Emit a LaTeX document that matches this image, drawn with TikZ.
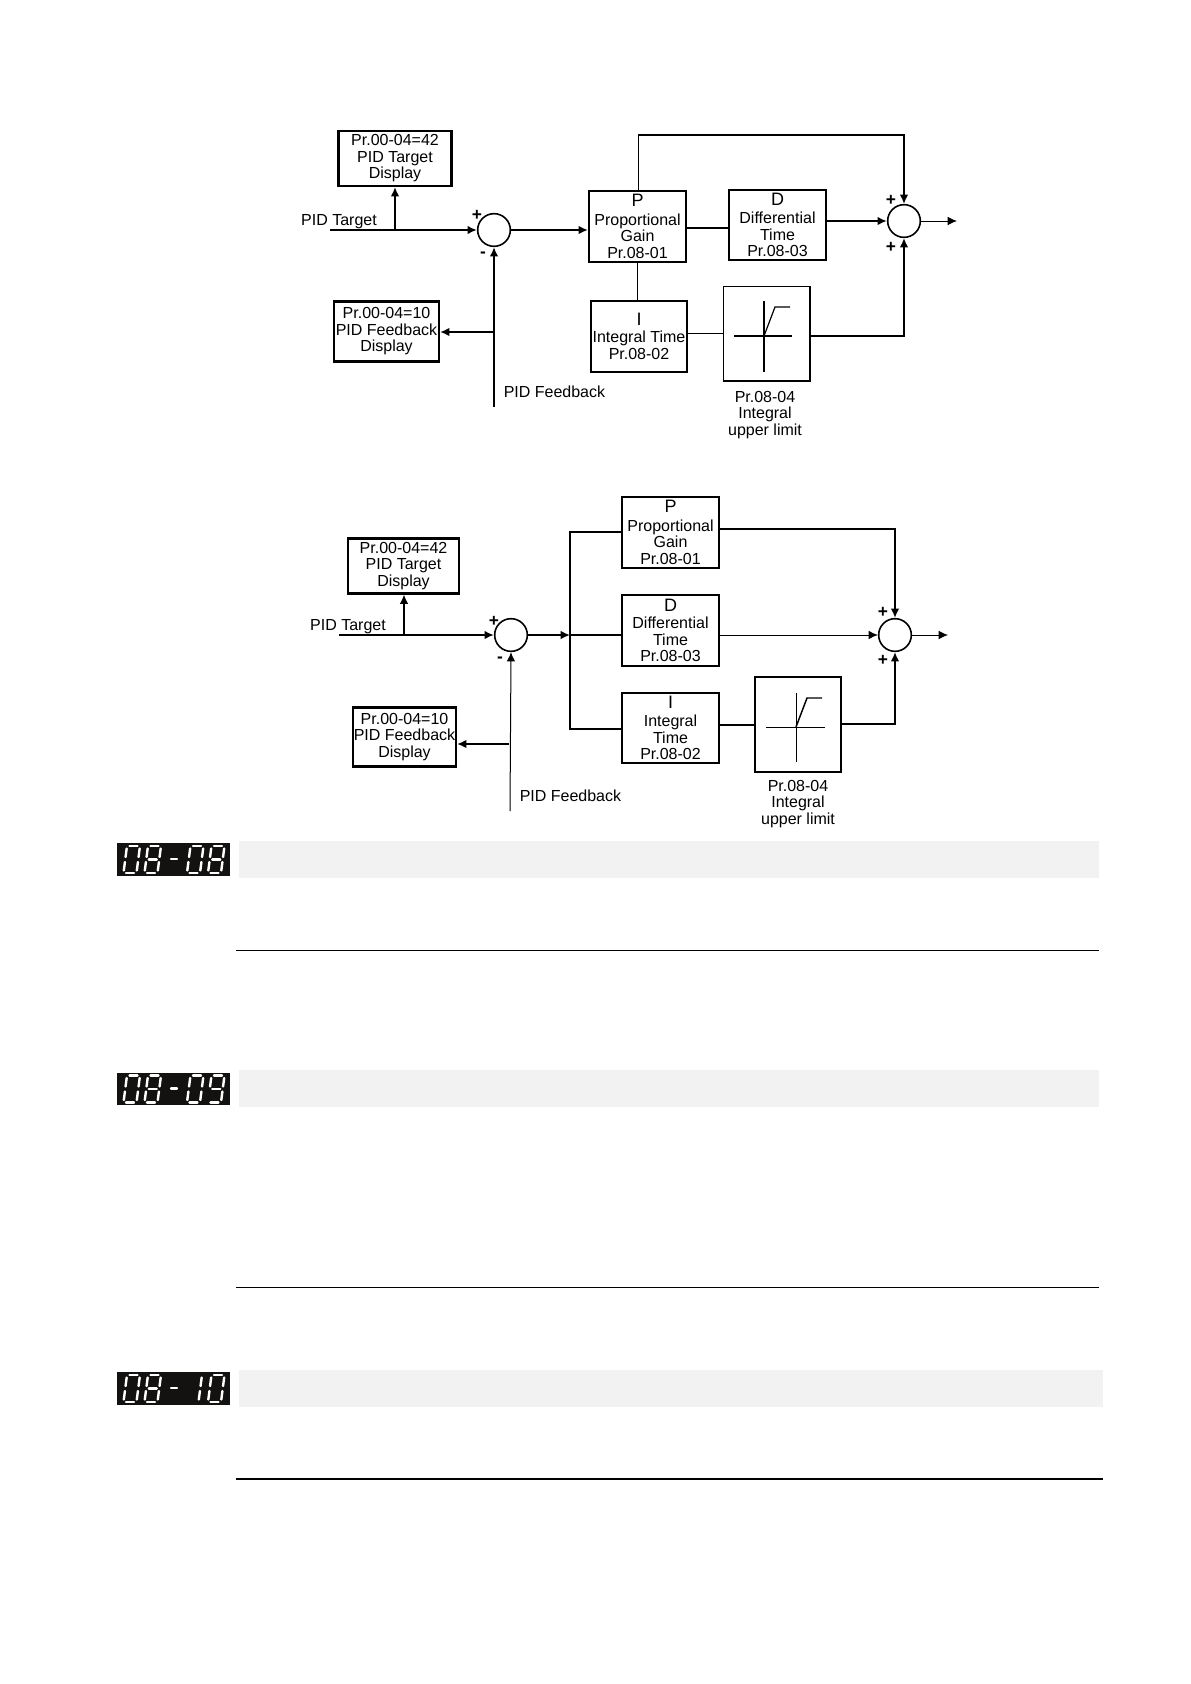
\documentclass[tikz,border=0pt]{standalone}
\usepackage{fontspec}
\setmainfont{Liberation Sans}
\usetikzlibrary{arrows.meta}
\definecolor{barcol}{HTML}{F2F2F2}
\definecolor{badgecol}{HTML}{141210}
\tikzset{
  lab/.style={inner sep=0pt,align=center,font=\fontsize{12}{12.4}\selectfont},
  boxlab/.style={lab,execute at begin node={\rule{0pt}{13pt}}},
  blockbox/.style={boxlab,draw=black,line width=1.3pt,minimum width=#1},
  dispbox/.style={boxlab,draw=black,line width=1.8pt,minimum width=#1},
  sumcirc/.style={circle,draw=black,line width=1.2pt,minimum size=24.5pt,inner sep=0pt},
  sign/.style={inner sep=0pt,xshift=0.75pt,yshift=-0.75pt,font=\fontsize{13}{13}\selectfont\bfseries},
  thinw/.style={draw=black,line width=0.75pt},
  medw/.style={draw=black,line width=1.2pt},
  thickw/.style={draw=black,line width=1.6pt},
  tip/.style={-{Latex[length=7pt,width=6.5pt]}},
  graybar/.style={fill=barcol,draw=none},
  rulew/.style={draw=black,line width=0.6pt},
  led/.style={draw=white,line width=1.8pt,line cap=round},
  ledbadge/.style={fill=badgecol,draw=none}
}
\newcommand{\bigletter}[1]{{\fontsize{13.5}{12.4}\selectfont #1}}
% seven-segment digit: #1 x, #2 y (top-left), #3 list of segments
\newcommand{\ledsegs}[3]{%
  \begin{scope}[shift={(#1,#2)},xslant=0.13]
    \foreach \s in {#3}{%
      \ifnum\s=1 \draw[led] (2.5,0) -- (10.5,0); \fi
      \ifnum\s=2 \draw[led] (13,2.5) -- (13,11); \fi
      \ifnum\s=3 \draw[led] (13,16) -- (13,24.5); \fi
      \ifnum\s=4 \draw[led] (2.5,27) -- (10.5,27); \fi
      \ifnum\s=5 \draw[led] (0,16) -- (0,24.5); \fi
      \ifnum\s=6 \draw[led] (0,2.5) -- (0,11); \fi
      \ifnum\s=7 \draw[led] (2.5,13.5) -- (10.5,13.5); \fi
    }
  \end{scope}}
\newcommand{\zerod}[2]{\ledsegs{#1}{#2}{1,2,3,4,5,6}}
\newcommand{\eightd}[2]{\ledsegs{#1}{#2}{1,2,3,4,5,6,7}}
\newcommand{\oned}[2]{\ledsegs{#1}{#2}{2,3}}
\newcommand{\ninedd}[2]{\ledsegs{#1}{#2}{1,2,3,4,6,7}}
\begin{document}
\begin{tikzpicture}[x=0.75pt,y=-0.75pt]
\useasboundingbox (0,0) rectangle (1190,1684);
\fill[white] (0,0) rectangle (1190,1684);

% ---------- first diagram ----------
\node[dispbox=85pt,minimum height=41pt] (tgtA) at (395,158.5) {Pr.00-04=42\\PID Target\\Display};
\node[dispbox=78.5pt,minimum height=45pt] (fbA) at (386.5,331.5) {Pr.00-04=10\\PID Feedback\\Display};
\node[sumcirc] (sA) at (494,230) {};
\node[sumcirc] (tA) at (904,221) {};
\node[blockbox=73pt,minimum height=53pt] (pA) at (637.5,226.5) {\bigletter{P}\\[1.5pt]Proportional\\Gain\\Pr.08-01};
\node[blockbox=73pt,minimum height=52.5pt] (dA) at (777.5,225) {\bigletter{D}\\[1.5pt]Differential\\Time\\Pr.08-03};
\node[blockbox=72pt,minimum height=53pt] (iA) at (639,336.5) {\bigletter{I}\\[0.5pt]Integral Time\\Pr.08-02};
\node[draw=black,line width=1pt,minimum width=65pt,minimum height=71pt,inner sep=0pt] (limA) at (766.5,333.5) {};
\node[lab,anchor=center] (ttA) at (339,222) {PID Target};
\node[lab,anchor=west] (ftA) at (503.5,392) {PID Feedback};
\node[lab] (ulA) at (765,415) {Pr.08-04\\Integral\\upper limit};
\node[sign] (p1A) at (476,214) {+};
\node[sign] (m1A) at (482,254) {-};
\node[sign] (p2A) at (890,199) {+};
\node[sign] (p3A) at (890,246) {+};
\coordinate (inA) at (330,230);
\coordinate (brA) at (395,230);
\coordinate (fsA) at (494,407);
\coordinate (fjA) at (494,332);
\coordinate (topA) at (904,135);
\coordinate (outA) at (957,221);
\draw[thickw,tip] (inA) -- (sA.west);
\draw[thickw,tip] (brA) -- (tgtA.south -| brA);
\draw[thickw,tip] (fsA) -- (sA.south);
\draw[thickw,tip] (fjA) -- (fjA -| fbA.east);
\draw[thickw,tip] (sA.east) -- (sA.east -| pA.west);
\draw[medw,tip] ([xshift=0.75pt]pA.north) -- ([xshift=0.75pt]pA.north |- topA) -- (topA) -- (tA.north);
\draw[thickw] (pA.east |- 0,228) -- (dA.west |- 0,228);
\draw[thickw,tip] (dA.east |- tA) -- (tA.west);
\draw[thinw] (pA.south) -- (iA.north -| pA.south);
\draw[thinw] (iA.east |- limA) -- (limA.west);
\draw[medw,tip] (limA.east |- 0,336) -- (tA.south |- 0,336) -- (tA.south);
\draw[thinw,tip] (tA.east) -- (outA);
% limiter graph
\draw[line width=1.1pt] (764,301) -- (764,372);
\draw[line width=1.1pt] (734,336) -- (792,336);
\draw[line width=0.9pt] (764,336) -- (775,307) -- (790,307);

% ---------- second diagram ----------
\node[dispbox=83pt,minimum height=41pt] (tgtB) at (403.5,566) {Pr.00-04=42\\PID Target\\Display};
\node[dispbox=77pt,minimum height=44pt] (fbB) at (404.5,737) {Pr.00-04=10\\PID Feedback\\Display};
\node[sumcirc] (sB) at (511,635) {};
\node[sumcirc] (tB) at (895,635) {};
\node[blockbox=72.5pt,minimum height=53pt] (pB) at (670.5,532.5) {\bigletter{P}\\[1.5pt]Proportional\\Gain\\Pr.08-01};
\node[blockbox=72.5pt,minimum height=53pt] (dB) at (670.5,630.5) {\bigletter{D}\\[0.5pt]Differential\\Time\\Pr.08-03};
\node[blockbox=72.5pt,minimum height=53pt] (iB) at (670.5,728) {\bigletter{I}\\[1.5pt]Integral\\Time\\Pr.08-02};
\node[draw=black,line width=1.1pt,minimum width=64.5pt,minimum height=71pt,inner sep=0pt] (limB) at (798,724.5) {};
\node[lab] (ttB) at (348,627) {PID Target};
\node[lab,anchor=west] (ftB) at (519.5,796) {PID Feedback};
\node[lab] (ulB) at (798,804) {Pr.08-04\\Integral\\upper limit};
\node[sign] (p1B) at (493,620) {+};
\node[sign] (m1B) at (499,659) {-};
\node[sign] (p2B) at (882,611) {+};
\node[sign] (p3B) at (882,659) {+};
\coordinate (inB) at (339,635);
\coordinate (brB) at (404,635);
\coordinate (fsB) at (510,811);
\coordinate (fjB) at (509,744);
\coordinate (busB) at (570,635);
\coordinate (busT) at (570,532);
\coordinate (busL) at (570,729);
\coordinate (outB) at (948,635);
\draw[thickw,tip] (inB) -- (sB.west);
\draw[medw,tip] (brB) -- (tgtB.south -| brB);
\draw[thinw,tip] (fsB) -- (sB.south);
\draw[thickw,tip] (fjB) -- (fjB -| fbB.east);
\draw[thickw,tip] (sB.east) -- (busB);
\draw[thickw] (busB) -- (dB.west |- busB);
\draw[thickw] (pB.west |- busT) -- (busT) -- (busL) -- (iB.west |- busL);
\draw[medw,tip] (pB.east |- 0,529) -- (tB.north |- 0,529) -- (tB.north);
\draw[thinw,tip] (dB.east |- tB) -- (tB.west);
\draw[thickw] (iB.east |- 0,725) -- (limB.west |- 0,725);
\draw[medw,tip] (limB.east |- 0,724) -- (tB.south |- 0,724) -- (tB.south);
\draw[thinw,tip] (tB.east) -- (outB);
% limiter graph
\draw[line width=0.7pt] (796,693) -- (796,762);
\draw[line width=0.6pt] (766,727) -- (825,727);
\draw[line width=1.1pt] (796,727) -- (807,698) -- (822,698);

% ---------- parameter bars ----------
\fill[graybar] (239,841) rectangle (1099,878);
\fill[graybar] (239,1070) rectangle (1099,1107);
\fill[graybar] (239,1370) rectangle (1103,1407);
\draw[rulew] (236,950.5) -- (1099,950.5);
\draw[rulew] (236,1287) -- (1099,1287);
\draw[line width=0.9pt] (236,1479) -- (1103,1479);

% ---------- LED badges ----------
\fill[ledbadge] (117,843) rectangle (230,876);
\zerod{127}{846}\eightd{148}{846}\zerod{190.5}{846}\eightd{211.5}{846}
\draw[led] (171,859) -- (177,859);
\fill[ledbadge] (117,1073) rectangle (230,1105);
\zerod{127}{1075.5}\eightd{148}{1075.5}\zerod{190.5}{1075.5}\ninedd{211.5}{1075.5}
\draw[led] (171,1088.5) -- (177,1088.5);
\fill[ledbadge] (117,1372) rectangle (230,1405);
\zerod{127}{1375}\eightd{148}{1375}\oned{189}{1375}\zerod{211.5}{1375}
\draw[led] (171,1388) -- (177,1388);
\end{tikzpicture}
\end{document}
